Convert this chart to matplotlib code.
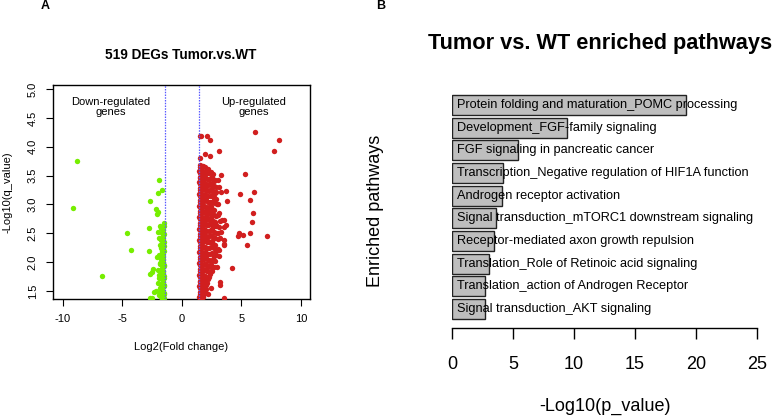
import matplotlib.pyplot as plt

plt.rcParams['font.family'] = ['Liberation Sans', 'DejaVu Sans']

# ---- panel A: volcano plot values ----
down_x = [-8.86, -9.16, -4.66, -4.26, -6.70, -2.80, -2.75, -2.66, -2.66, -2.41,
          -2.35, -2.69, -2.55,
          -1.91, -1.68, -2.05, -2.18, -1.99, -2.08, -1.51, -1.85, -1.76, -1.99,
          -1.60, -1.55, -1.91, -1.73, -1.62, -1.52, -1.80, -1.68, -1.95, -1.57,
          -2.10, -1.75, -1.60, -1.85, -1.55, -1.70, -2.00, -1.62, -1.80, -1.53,
          -1.90, -1.68, -1.58, -2.05, -1.75, -1.55, -1.85, -1.65, -2.15, -1.52,
          -1.78, -1.95, -1.60, -1.70, -2.50, -1.52, -1.65, -1.88, -1.58,
          -1.53, -1.72, -1.56, -1.82, -1.54, -1.66, -1.52, -1.78, -1.57, -1.93,
          -1.55, -1.70, -1.53, -1.62, -1.85, -1.55, -1.74, -1.52, -1.64, -1.58]
down_y = [3.75, 2.93, 2.50, 2.21, 1.76, 2.59, 2.19, 3.06, 1.79, 1.88,
          1.49, 1.38, 1.82,
          3.43, 3.25, 3.19, 2.92, 2.87, 2.83, 2.68, 2.63, 2.59, 2.52,
          2.55, 2.48, 2.42, 2.38, 2.33, 2.28, 2.24, 2.15, 2.12, 2.10,
          2.09, 2.05, 2.00, 1.97, 1.93, 1.90, 1.87, 1.84, 1.80, 1.76,
          1.73, 1.70, 1.66, 1.64, 1.61, 1.58, 1.55, 1.52, 1.50, 1.47,
          1.45, 1.43, 1.41, 1.38, 1.38, 1.37, 2.20, 1.98, 2.45,
          2.62, 2.50, 2.40, 2.30, 2.19, 2.02, 1.95, 1.86, 1.82, 1.78,
          1.72, 1.63, 1.60, 1.56, 1.49, 1.44, 1.40, 2.35, 2.26, 2.06]

up_x = [6.16, 8.15, 7.73, 5.32, 4.90, 6.02, 5.68, 5.94, 5.91, 4.79,
        4.73, 5.15, 5.71, 7.17, 5.49, 4.17,
        1.54, 1.63, 2.14, 2.38, 3.13, 1.90, 2.38, 1.54, 3.28, 3.72,
        3.78, 3.08, 3.50, 3.70, 2.88, 3.50, 3.50, 3.08, 3.22, 2.46, 3.50,
        1.50, 1.70, 1.90, 2.20, 1.60,
        1.45, 1.55, 1.80, 2.00, 2.30, 2.60, 1.70,
        1.50, 1.60, 1.90, 2.10, 2.40, 2.80, 3.00, 1.75,
        1.45, 1.60, 1.80, 2.00, 2.20, 2.50, 2.70, 3.10,
        1.50, 1.70, 1.90, 2.10, 2.30, 2.60, 2.90, 3.30,
        1.45, 1.55, 1.80, 2.00, 2.40, 2.70, 1.65,
        1.50, 1.70, 2.00, 2.20, 2.50, 2.80, 3.05,
        1.45, 1.60, 1.85, 2.10, 2.30, 2.55,
        1.50, 1.70, 1.90, 2.20, 2.40, 2.70, 3.00,
        1.45, 1.60, 1.80, 2.00, 2.30, 2.60, 3.20, 3.40,
        1.50, 1.70, 1.95, 2.20, 2.50, 2.90, 3.50,
        1.45, 1.60, 1.85, 2.05, 2.40, 2.70, 3.00, 3.30,
        1.50, 1.70, 1.90, 2.20, 2.50, 2.80, 3.20,
        1.45, 1.60, 1.80, 2.10, 2.40, 2.60, 3.50,
        1.50, 1.70, 1.95, 2.30, 2.70, 3.00,
        1.45, 1.65, 1.90, 2.20, 2.50, 2.90, 3.10,
        1.50, 1.70, 2.00, 2.30, 2.60, 2.80,
        1.45, 1.60, 1.85, 2.10, 2.40, 2.70, 2.95,
        1.50, 1.70, 1.95, 2.20, 2.50,
        1.45, 1.60, 1.80, 2.05, 2.30,
        1.50, 1.65, 1.90, 2.10, 3.20,
        1.45, 1.60, 1.80, 2.00,
        1.50, 1.70, 1.90, 2.20,
        1.45, 1.60]
up_y = [4.26, 4.11, 3.92, 3.53, 3.18, 3.21, 3.08, 2.85, 2.70, 2.50,
        2.46, 2.47, 2.51, 2.46, 2.29, 1.89,
        4.19, 4.19, 4.19, 4.11, 3.93, 3.87, 3.84, 3.80, 3.51, 3.23,
        3.06, 2.85, 2.73, 2.64, 2.64, 2.38, 2.30, 2.21, 1.60, 1.55, 1.37,
        3.68, 3.66, 3.65, 3.62, 3.61,
        3.58, 3.56, 3.57, 3.54, 3.55, 3.52, 3.51,
        3.48, 3.46, 3.47, 3.44, 3.45, 3.43, 3.42, 3.41,
        3.38, 3.37, 3.36, 3.35, 3.34, 3.33, 3.32, 3.31,
        3.28, 3.27, 3.26, 3.25, 3.24, 3.23, 3.22, 3.21,
        3.18, 3.16, 3.17, 3.14, 3.15, 3.12, 3.11,
        3.08, 3.06, 3.07, 3.04, 3.05, 3.02, 3.01,
        2.98, 2.96, 2.97, 2.94, 2.95, 2.92,
        2.88, 2.86, 2.87, 2.84, 2.85, 2.82, 2.81,
        2.78, 2.76, 2.77, 2.74, 2.75, 2.72, 2.71, 2.73,
        2.68, 2.66, 2.67, 2.64, 2.65, 2.62, 2.61,
        2.58, 2.56, 2.57, 2.54, 2.55, 2.52, 2.51, 2.53,
        2.48, 2.46, 2.47, 2.44, 2.45, 2.42, 2.41,
        2.38, 2.36, 2.37, 2.34, 2.35, 2.32, 2.31,
        2.28, 2.26, 2.27, 2.24, 2.25, 2.22,
        2.18, 2.16, 2.17, 2.14, 2.15, 2.12, 2.11,
        2.08, 2.06, 2.07, 2.04, 2.05, 2.02,
        1.98, 1.96, 1.97, 1.94, 1.95, 1.92, 1.91,
        1.88, 1.86, 1.87, 1.84, 1.85,
        1.78, 1.76, 1.77, 1.74, 1.75,
        1.68, 1.66, 1.67, 1.64, 1.65,
        1.58, 1.56, 1.57, 1.54,
        1.48, 1.46, 1.47, 1.44,
        1.40, 1.38]

# extra points filling the dense up-regulated blob
up_dense_x = [1.48, 1.58, 1.75,
              1.52, 1.65, 1.92, 2.15, 2.45,
              1.48, 1.68, 1.85, 2.25, 2.55, 2.65,
              1.52, 1.72, 1.90, 2.12, 2.35, 2.62, 2.85,
              1.48, 1.62, 1.82, 2.02, 2.45, 2.75,
              1.52, 1.72, 1.92, 2.15, 2.55, 2.85,
              1.48, 1.62, 1.85, 2.35, 2.65, 2.92,
              1.52, 1.72, 1.98, 2.20, 2.45, 2.70,
              1.48, 1.62, 1.80, 2.05, 2.30, 2.55, 2.85,
              1.52, 1.70, 1.90, 2.15, 2.45, 2.75,
              1.48, 1.62, 1.82, 2.08, 2.35, 2.65, 3.10,
              1.52, 1.72, 1.95, 2.25, 2.55, 2.85,
              1.48, 1.62, 1.80, 2.05, 2.35, 2.65, 3.00,
              1.52, 1.70, 1.92, 2.25, 2.50, 2.80,
              1.48, 1.62, 1.82, 2.10, 2.45, 2.85,
              1.52, 1.75, 2.05, 2.35, 2.70,
              1.48, 1.62, 1.85, 2.15, 2.45,
              1.52, 1.72, 2.00, 2.25, 2.55,
              1.48, 1.60, 1.82, 2.08, 2.35,
              1.52, 1.70, 1.92, 2.15,
              1.48, 1.60, 1.78, 2.00,
              1.52, 1.70, 1.90,
              1.48, 1.60, 1.80,
              1.55, 1.75]
up_dense_y = [3.65, 3.63, 3.66,
              3.55, 3.53, 3.56, 3.54, 3.57,
              3.45, 3.43, 3.46, 3.44, 3.47, 3.40,
              3.35, 3.33, 3.36, 3.34, 3.37, 3.32, 3.30,
              3.25, 3.23, 3.26, 3.24, 3.27, 3.20,
              3.15, 3.13, 3.16, 3.14, 3.17, 3.10,
              3.05, 3.03, 3.06, 3.04, 3.07, 3.00,
              2.95, 2.93, 2.96, 2.94, 2.97, 2.90,
              2.85, 2.83, 2.86, 2.84, 2.87, 2.82, 2.80,
              2.75, 2.73, 2.76, 2.74, 2.77, 2.70,
              2.65, 2.63, 2.66, 2.64, 2.67, 2.62, 2.60,
              2.55, 2.53, 2.56, 2.54, 2.57, 2.50,
              2.45, 2.43, 2.46, 2.44, 2.47, 2.42, 2.40,
              2.35, 2.33, 2.36, 2.34, 2.37, 2.30,
              2.25, 2.23, 2.26, 2.24, 2.27, 2.20,
              2.15, 2.13, 2.16, 2.14, 2.10,
              2.05, 2.03, 2.06, 2.04, 2.00,
              1.95, 1.93, 1.96, 1.94, 1.90,
              1.85, 1.83, 1.86, 1.84, 1.80,
              1.75, 1.73, 1.76, 1.70,
              1.65, 1.63, 1.66, 1.60,
              1.55, 1.53, 1.50,
              1.45, 1.43, 1.42,
              1.38, 1.39]

fc_cut = 1.45

# ---- panel B: enriched pathways ----
pathways = ['Protein folding and maturation_POMC processing',
            'Development_FGF-family signaling',
            'FGF signaling in pancreatic cancer',
            'Transcription_Negative regulation of HIF1A function',
            'Androgen receptor activation',
            'Signal transduction_mTORC1 downstream signaling',
            'Receptor-mediated axon growth repulsion',
            'Translation_Role of Retinoic acid signaling',
            'Translation_action of Androgen Receptor',
            'Signal transduction_AKT signaling']
neg_log_p = [19.15, 9.4, 5.4, 4.16, 4.08, 3.61, 3.47, 3.0, 2.73, 2.73]
p_ticks = [0, 5, 10, 15, 20, 25]

W, H = 779, 416
fig = plt.figure(figsize=(W / 100, H / 100), dpi=100)

# panel A
ax1 = fig.add_axes([53 / W, 1 - 299 / H, (310 - 53) / W, (299 - 85) / H])
ax1.scatter(down_x, down_y, s=15, color='#76EE00', linewidths=0, zorder=3)
ax1.scatter(up_x + up_dense_x, up_y + up_dense_y, s=15, color='#D11F1F',
            linewidths=0, zorder=3)
ax1.axvline(-fc_cut, color='#5a5aff', ls=(0, (1.2, 1)), lw=0.9, zorder=4)
ax1.axvline(fc_cut, color='#5a5aff', ls=(0, (1.2, 1)), lw=0.9, zorder=4)
ax1.set_xlim(-10.84, 10.76)
ax1.set_ylim(1.36, 5.07)
ax1.set_xticks([-10, -5, 0, 5, 10])
ax1.set_xticklabels(['-10', '-5', '0', '5', '10'])
ax1.set_yticks([1.5, 2.0, 2.5, 3.0, 3.5, 4.0, 4.5, 5.0])
ax1.set_yticklabels(['1.5', '2.0', '2.5', '3.0', '3.5', '4.0', '4.5', '5.0'],
                    rotation=90, va='center')
ax1.tick_params(labelsize=8, length=5, width=0.8, pad=6)
for sp in ax1.spines.values():
    sp.set_linewidth(1.0)
ax1.text(-6.0, 4.69, 'Down-regulated\ngenes', ha='center', va='center',
         fontsize=8, linespacing=1.1)
ax1.text(6.0, 4.69, 'Up-regulated\ngenes', ha='center', va='center',
         fontsize=8, linespacing=1.1)
ax1.set_xlabel('Log2(Fold change)', fontsize=8, labelpad=13)
fig.text(8 / W, 1 - 192 / H, '-Log10(q_value)', rotation=90, fontsize=8,
         ha='center', va='center')
fig.text(181 / W, 1 - 55 / H, '519 DEGs Tumor.vs.WT', fontsize=9.8,
         fontweight='bold', ha='center', va='center')
fig.text(45 / W, 1 - 6 / H, 'A', fontsize=9, fontweight='bold',
         ha='center', va='center')

# panel B
ax2 = fig.add_axes([452 / W, 1 - 328 / H, (757 - 452) / W, (328 - 90) / H])
ypos = list(range(len(pathways) - 1, -1, -1))
ax2.barh(ypos, neg_log_p, height=0.88, color='#BEBEBE', edgecolor='#222222',
         linewidth=1.0, zorder=2)
for yp, name in zip(ypos, pathways):
    ax2.text(0.45, yp, name, fontsize=9.2, ha='left', va='center', zorder=3)
ax2.set_xlim(0, 25)
ax2.set_ylim(-0.838, 9.662)
ax2.set_xticks(p_ticks)
ax2.set_xticklabels([str(t) for t in p_ticks])
ax2.set_yticks([])
for side in ['left', 'top', 'right']:
    ax2.spines[side].set_visible(False)
ax2.spines['bottom'].set_linewidth(1.0)
ax2.tick_params(axis='x', labelsize=13, length=8, width=1.0, pad=12)
ax2.set_xlabel('-Log10(p_value)', fontsize=13, labelpad=18)
fig.text(375 / W, 1 - 211 / H, 'Enriched pathways', rotation=90, fontsize=13,
         ha='center', va='center')
fig.text(600 / W, 1 - 43 / H, 'Tumor vs. WT enriched pathways', fontsize=15.7,
         fontweight='bold', ha='center', va='center')
fig.text(381 / W, 1 - 6 / H, 'B', fontsize=9, fontweight='bold',
         ha='center', va='center')

fig.savefig('out.png', dpi=100)
